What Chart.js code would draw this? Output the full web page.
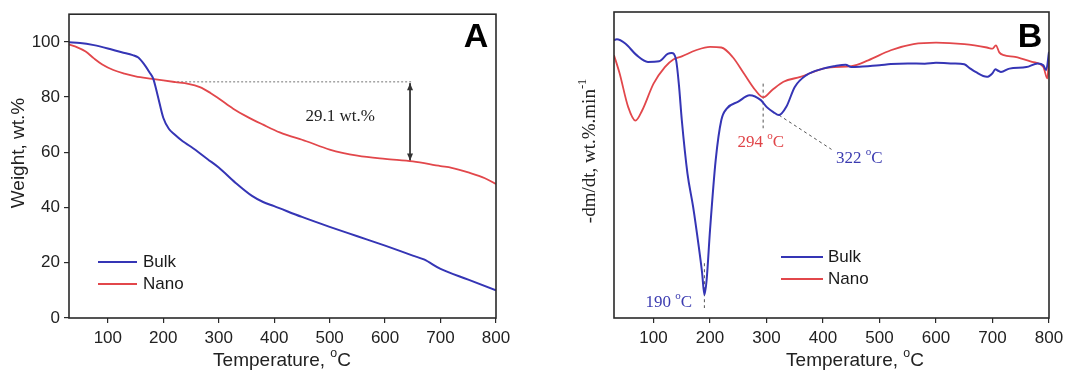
<!DOCTYPE html>
<html>
<head>
<meta charset="utf-8">
<script src="https://cdn.jsdelivr.net/npm/chart.js@4.4.0/dist/chart.umd.min.js"></script>
<style>
  html,body{margin:0;padding:0;background:#fff;}
  #wrap{position:relative;width:1070px;height:373px;}
  canvas{position:absolute;top:0;}
  #cA{left:0;}
  #cB{left:540px;}
</style>
</head>
<body>
<div id="wrap">
  <canvas id="cA" width="540" height="373"></canvas>
  <canvas id="cB" width="530" height="373"></canvas>
</div>
<script>
// ---------- DATA ----------
const seriesNames = ["Bulk", "Nano"];
const xTickValues = [100, 200, 300, 400, 500, 600, 700, 800];
const yTickValuesA = [0, 20, 40, 60, 80, 100];

// Panel A: TGA weight (wt.%)
const tempA_bulk = [30,50,75,100,125,145,155,165,175,182,190,200,210,220,235,250,280,300,330,360,380,400,450,500,550,600,650,670,700,750,800];
const weightA_bulk = [99.8,99.6,98.8,97.6,96.2,95.2,94.3,92,89,86.6,80.5,72.5,68.5,66.5,64,62,57.5,54.5,49,44.2,42,40.5,36.6,33,29.6,26.2,22.6,21.2,17.8,13.9,10];
const tempA_nano = [30,45,60,75,90,110,130,150,180,200,222,245,266,285,300,326,350,380,410,458,500,550,600,650,700,720,750,780,800];
const weightA_nano = [99,98,96.5,94,91.8,89.8,88.5,87.5,86.6,86,85.4,84.8,83.6,81.5,79.5,75.8,73,70,67.2,64,61,58.8,57.6,56.7,55,54.4,52.7,50.6,48.5];

// Panel A annotation (29.1 wt.% loss marker)
const refLineX = [225, 650];
const refLineY = [85.5, 85.5];
const arrowX = [645, 645];
const arrowY = [85, 57];
const lossLabel = "29.1 wt.%";
const lossLabelPos = [519, 73];

// Panel B: DTG (-dm/dt, arbitrary units 0-100)
const tempB_bulk = [30,35,50,70,90,110,125,132,140,145,150,160,170,180,186,190,194,200,210,220,230,250,270,290,300,312,322,335,350,370,400,420,440,450,470,500,520,550,580,600,630,650,660,670,690,700,705,710,715,730,760,780,790,795,800];
const dtgB_bulk = [90.8,91.1,89.7,85.9,83.7,83.9,86.3,86.6,84.2,76,64.7,47.3,36.4,23.4,14.7,7.6,12.5,28.8,51.6,64.7,68.5,70.7,72.8,71.2,69,67.3,66.3,69,75.5,79.3,81.5,82.3,82.8,82,82.2,82.6,83,83.2,83.1,83.4,83.2,82.9,81.6,80.4,78.8,80,81.3,80.8,80.4,81.5,82,83.2,82.6,81,87];
const tempB_nano = [30,40,55,68,80,100,120,135,150,175,200,220,240,260,280,294,310,330,360,400,420,450,480,520,560,600,650,690,700,706,712,720,740,770,790,797,800];
const dtgB_nano = [85.9,79.9,69,64.5,67.9,76.6,82,84.5,85.5,87.5,88.6,88.4,85.3,79.9,74.5,72.1,74.5,77.2,78.8,81.5,82,82.3,84.2,87.5,89.5,90,89.5,88.4,88,89.1,86.8,85.9,85.3,83.7,82,78.3,84.8];

// Panel B peak markers
const peakLabels = ["190 ", "294 ", "322 "];
const peak190X = [190, 190], peak190Y = [17.9, 3.3];
const peak294X = [294, 294], peak294Y = [76.6, 62];
const peak322X = [322, 415], peak322Y = [66.3, 55.1];
const peakLabelPos = [[127, 4.9], [290, 57.2], [464, 52]];

// ---------- STYLE ----------
const BLUE = "#3535b5";
const RED = "#e2474b";
const AXIS = "#2a2a2a";
const SANS = "'Liberation Sans', Arial, sans-serif";
const SERIF = "'Liberation Serif', 'Times New Roman', serif";

function pts(xs, ys){ return xs.map((v,i)=>({x:v, y:ys[i]})); }

function drawRich(ctx, parts, x, y, size, family, color, align){
  ctx.save();
  ctx.fillStyle = color;
  ctx.textBaseline = "middle";
  ctx.textAlign = "left";
  let total = 0;
  const ms = parts.map(p=>{
    const s = p.sup ? size*0.65 : size;
    ctx.font = s + "px " + family;
    const w = ctx.measureText(p.t).width;
    total += w;
    return {p, s, w};
  });
  let cx = align === "left" ? x : (align === "right" ? x-total : x-total/2);
  ms.forEach(m=>{
    ctx.font = m.s + "px " + family;
    ctx.fillText(m.p.t, cx, m.p.sup ? y - size*0.38 : y);
    cx += m.w;
  });
  ctx.restore();
}

function legend(ctx, x0, x1, tx, ys, size){
  [BLUE, RED].forEach((c,i)=>{
    ctx.strokeStyle = c; ctx.lineWidth = 2; ctx.setLineDash([]);
    ctx.beginPath(); ctx.moveTo(x0, ys[i]); ctx.lineTo(x1, ys[i]); ctx.stroke();
    ctx.fillStyle = "#1a1a1a"; ctx.font = size+"px "+SANS;
    ctx.textBaseline = "middle"; ctx.textAlign = "left";
    ctx.fillText(seriesNames[i], tx, ys[i]);
  });
}

function arrowHead(ctx, x, y, dir){
  ctx.beginPath();
  ctx.moveTo(x, y);
  ctx.lineTo(x-3, y - dir*7);
  ctx.lineTo(x+3, y - dir*7);
  ctx.closePath(); ctx.fill();
}

function baseScales(yMin, yMax, yTicksShow, yW, xH, yTicks){
  return {
    x: {
      type: "linear", min: 30, max: 800, offset: false,
      afterBuildTicks: s => { s.ticks = xTickValues.map(v=>({value:v})); },
      afterFit: s => { s.height = xH; },
      grid: { drawOnChartArea: false, drawTicks: true, tickLength: 5, color: AXIS, lineWidth: 1.2 },
      border: { display: false },
      ticks: { color: "#222", font: { size: 17, family: SANS }, padding: 5, maxRotation: 0 }
    },
    y: {
      type: "linear", min: yMin, max: yMax,
      afterBuildTicks: s => { s.ticks = yTicks.map(v=>({value:v})); },
      afterFit: s => { s.width = yW; },
      grid: { drawOnChartArea: false, drawTicks: yTicksShow, tickLength: 5, color: AXIS, lineWidth: 1.2, display: yTicksShow },
      border: { display: false },
      ticks: { display: yTicksShow, color: "#222", font: { size: 17, family: SANS }, padding: 4 }
    }
  };
}

const frame = {
  id: "frame",
  afterDraw(chart){
    const {ctx, chartArea: a} = chart;
    ctx.save();
    ctx.strokeStyle = AXIS; ctx.lineWidth = 1.6; ctx.setLineDash([]);
    ctx.strokeRect(a.left, a.top, a.right-a.left, a.bottom-a.top);
    ctx.restore();
  }
};

// ---------- CHART A ----------
const annA = {
  id: "annA",
  afterDraw(chart){
    const {ctx, scales:{x, y}} = chart;
    ctx.save();
    ctx.fillStyle = "#333";
    arrowHead(ctx, x.getPixelForValue(arrowX[0]), y.getPixelForValue(arrowY[0]), -1);
    arrowHead(ctx, x.getPixelForValue(arrowX[1]), y.getPixelForValue(arrowY[1]), 1);
    ctx.fillStyle = "#222"; ctx.font = "17px " + SERIF;
    ctx.textAlign = "center"; ctx.textBaseline = "middle";
    ctx.fillText(lossLabel, x.getPixelForValue(lossLabelPos[0]), y.getPixelForValue(lossLabelPos[1]));
    ctx.font = "bold 34px " + SANS; ctx.fillStyle = "#000";
    ctx.textAlign = "center";
    ctx.fillText("A", 476, 38);
    legend(ctx, 98, 137, 143, [262, 284], 17);
    drawRich(ctx, [{t:"Temperature, "},{t:"o",sup:true},{t:"C"}], 282, 361, 19, SANS, "#222", "center");
    ctx.translate(19, 153); ctx.rotate(-Math.PI/2);
    drawRich(ctx, [{t:"Weight, wt.%"}], 0, 0, 19, SANS, "#222", "center");
    ctx.restore();
  }
};

new Chart(document.getElementById("cA"), {
  type: "line",
  data: {
    datasets: [
      { label: seriesNames[0], data: pts(tempA_bulk, weightA_bulk), borderColor: BLUE, borderWidth: 2, pointRadius: 0, cubicInterpolationMode: "monotone", fill: false },
      { label: seriesNames[1], data: pts(tempA_nano, weightA_nano), borderColor: RED, borderWidth: 1.8, pointRadius: 0, cubicInterpolationMode: "monotone", fill: false },
      { label: "ref", data: pts(refLineX, refLineY), borderColor: "#666", borderWidth: 0.9, borderDash: [2, 2], pointRadius: 0 },
      { label: "arrow", data: pts(arrowX, arrowY), borderColor: "#333", borderWidth: 1, pointRadius: 0 }
    ]
  },
  options: {
    responsive: false, animation: false, devicePixelRatio: 1,
    layout: { padding: { left: 0, right: 44, top: 12, bottom: 0 } },
    plugins: { legend: { display: false }, tooltip: { enabled: false } },
    scales: baseScales(0, 110, true, 69, 55, yTickValuesA)
  },
  plugins: [frame, annA]
});

// ---------- CHART B ----------
const annB = {
  id: "annB",
  afterDraw(chart){
    const {ctx, scales:{x, y}} = chart;
    ctx.save();
    drawRich(ctx, [{t:peakLabels[0]},{t:"o",sup:true},{t:"C"}], x.getPixelForValue(peakLabelPos[0][0]), y.getPixelForValue(peakLabelPos[0][1]), 17, SERIF, "#3b3bb0", "center");
    drawRich(ctx, [{t:peakLabels[1]},{t:"o",sup:true},{t:"C"}], x.getPixelForValue(peakLabelPos[1][0]), y.getPixelForValue(peakLabelPos[1][1]), 17, SERIF, "#e04448", "center");
    drawRich(ctx, [{t:peakLabels[2]},{t:"o",sup:true},{t:"C"}], x.getPixelForValue(peakLabelPos[2][0]), y.getPixelForValue(peakLabelPos[2][1]), 17, SERIF, "#3b3bb0", "center");
    ctx.font = "bold 34px " + SANS; ctx.fillStyle = "#000";
    ctx.textAlign = "center"; ctx.textBaseline = "middle";
    ctx.fillText("B", 490, 38);
    legend(ctx, 241, 283, 288, [257, 279], 17);
    drawRich(ctx, [{t:"Temperature, "},{t:"o",sup:true},{t:"C"}], 315, 361, 19, SANS, "#222", "center");
    ctx.translate(50, 151); ctx.rotate(-Math.PI/2);
    drawRich(ctx, [{t:"-dm/dt, wt.%.min"},{t:"-1",sup:true}], 0, 0, 19, SERIF, "#222", "center");
    ctx.restore();
  }
};

const dashed = { borderColor: "#555", borderWidth: 1, borderDash: [3, 3], pointRadius: 0 };
new Chart(document.getElementById("cB"), {
  type: "line",
  data: {
    datasets: [
      { label: seriesNames[0], data: pts(tempB_bulk, dtgB_bulk), borderColor: BLUE, borderWidth: 2, pointRadius: 0, cubicInterpolationMode: "monotone", fill: false },
      { label: seriesNames[1], data: pts(tempB_nano, dtgB_nano), borderColor: RED, borderWidth: 1.8, pointRadius: 0, cubicInterpolationMode: "monotone", fill: false },
      Object.assign({ label: "p190", data: pts(peak190X, peak190Y) }, dashed),
      Object.assign({ label: "p294", data: pts(peak294X, peak294Y) }, dashed),
      Object.assign({ label: "p322", data: pts(peak322X, peak322Y) }, dashed)
    ]
  },
  options: {
    responsive: false, animation: false, devicePixelRatio: 1,
    layout: { padding: { left: 0, right: 21, top: 12, bottom: 0 } },
    plugins: { legend: { display: false }, tooltip: { enabled: false } },
    scales: baseScales(0, 100, false, 74, 55, [])
  },
  plugins: [frame, annB]
});
</script>
</body>
</html>
